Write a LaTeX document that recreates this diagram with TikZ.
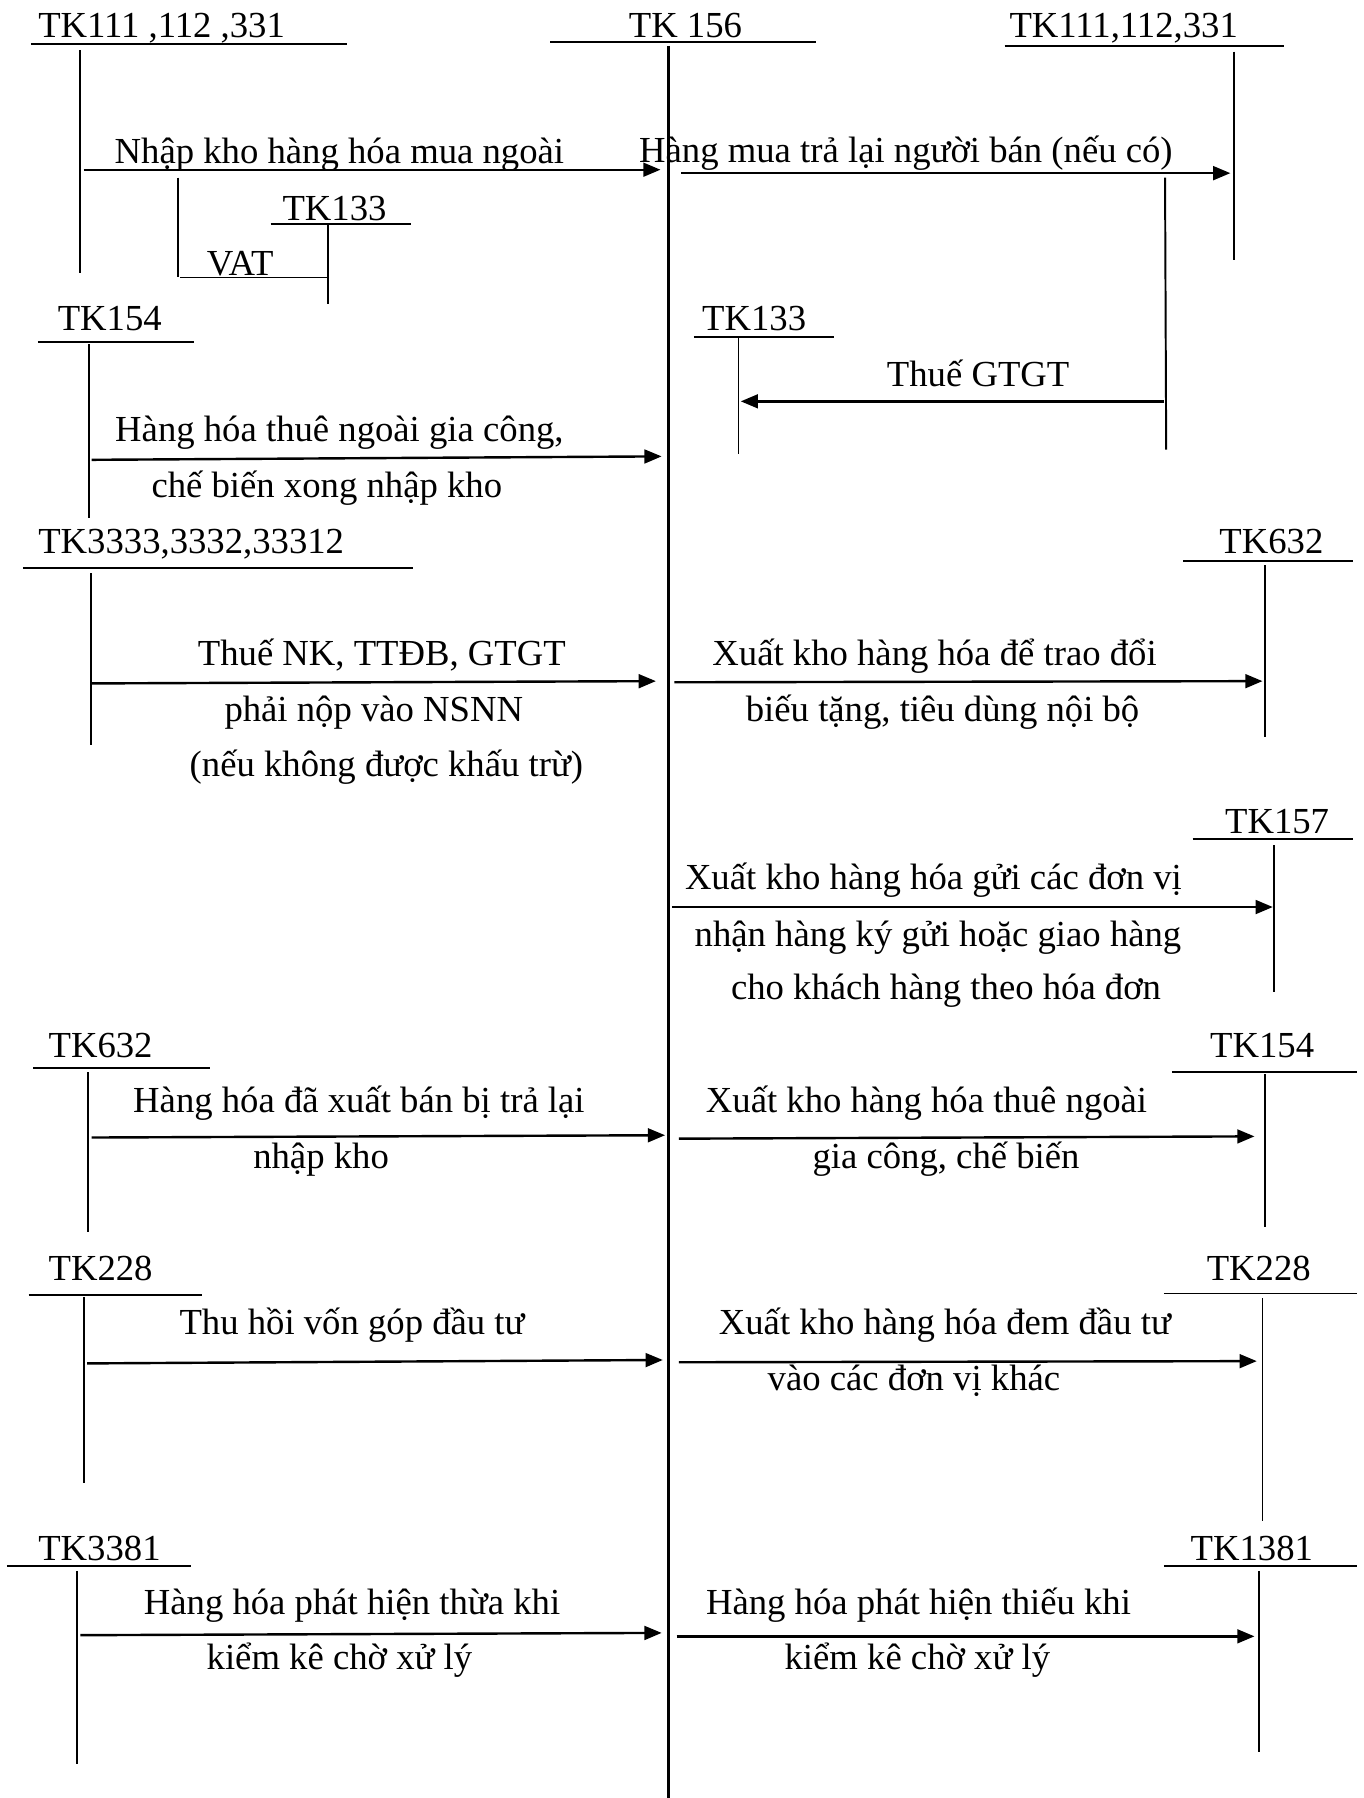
\documentclass[tikz,border=0pt]{standalone}
\usepackage{fontspec}
\setmainfont{Liberation Serif}
\usetikzlibrary{arrows.meta}
\tikzset{
  acct/.style={anchor=base west,inner sep=0pt,font=\fontsize{16}{19}\selectfont},
  lbl/.style={anchor=base,inner sep=0pt,font=\fontsize{16}{19}\selectfont},
  tline/.style={line width=0.85pt},
  arr/.style={line width=1.05pt,-{Triangle[length=7.5pt,width=6pt]}},
}
\begin{document}
\begin{tikzpicture}[x=0.5pt,y=-0.5pt]
\useasboundingbox (0,0) rectangle (1189,1568);
% ---------- T-accounts ----------
% TK111 left
\node[acct] (tkA) at (33,33) {TK111 ,112 ,331};
\coordinate (uA1) at (27,38); \coordinate (uA2) at (303,38);
\coordinate (vA1) at (70,44); \coordinate (vA2) at (70,238);
\draw[tline] (uA1) -- (uA2); \draw[tline] (vA1) -- (vA2);
% TK156 centre
\node[acct] (tkM) at (548,33) {TK 156};
\coordinate (uM1) at (480,37); \coordinate (uM2) at (712,37);
\coordinate (vM1) at (583,40); \coordinate (vM2) at (583,1568);
\draw[tline] (uM1) -- (uM2); \draw[line width=1.1pt] (vM1) -- (vM2);
% TK111 right
\node[acct] (tkB) at (880,33) {TK111,112,331};
\coordinate (uB1) at (876,40); \coordinate (uB2) at (1120,40);
\coordinate (vB1) at (1076,45); \coordinate (vB2) at (1076,227);
\draw[tline] (uB1) -- (uB2); \draw[tline] (vB1) -- (vB2);
% TK133 small left
\node[acct] (tkC) at (246,192) {TK133};
\coordinate (uC1) at (236,195); \coordinate (uC2) at (358,195);
\coordinate (vC1) at (286,195); \coordinate (vC2) at (286,265);
\draw[tline] (uC1) -- (uC2); \draw[tline] (vC1) -- (vC2);
% VAT bracket
\coordinate (vat1) at (155,155); \coordinate (vat2) at (155,242); \coordinate (vat3) at (286,242);
\draw[tline] (vat1) -- (vat2); \draw[tline] (157,242) -- (vat3);
\node[acct] (vatl) at (180,240) {VAT};
% TK133 right
\node[acct] (tkD) at (612,288) {TK133};
\coordinate (uD1) at (605,294); \coordinate (uD2) at (727,294);
\coordinate (vD1) at (644,295); \coordinate (vD2) at (644,396);
\draw[tline] (uD1) -- (uD2); \draw[tline] (vD1) -- (vD2);
% return branch vertical
\coordinate (vR1) at (1016,155); \coordinate (vR2) at (1017,392);
\draw[tline] (vR1) -- (vR2);
% TK154 left
\node[acct] (tkE) at (50,288) {TK154};
\coordinate (uE1) at (33,298); \coordinate (uE2) at (169,298);
\coordinate (vE1) at (78,300); \coordinate (vE2) at (78,452);
\draw[tline] (uE1) -- (uE2); \draw[tline] (vE1) -- (vE2);
% TK3333
\node[acct] (tkF) at (33,483) {TK3333,3332,33312};
\coordinate (uF1) at (20,495); \coordinate (uF2) at (360,495);
\coordinate (vF1) at (79,500); \coordinate (vF2) at (79,650);
\draw[tline] (uF1) -- (uF2); \draw[tline] (vF1) -- (vF2);
% TK632 right
\node[acct] (tkG) at (1063,483) {TK632};
\coordinate (uG1) at (1032,489); \coordinate (uG2) at (1180,489);
\coordinate (vG1) at (1103,493); \coordinate (vG2) at (1103,643);
\draw[tline] (uG1) -- (uG2); \draw[tline] (vG1) -- (vG2);
% TK157
\node[acct] (tkH) at (1068,727) {TK157};
\coordinate (uH1) at (1040,732); \coordinate (uH2) at (1180,732);
\coordinate (vH1) at (1111,737); \coordinate (vH2) at (1111,865);
\draw[tline] (uH1) -- (uH2); \draw[tline] (vH1) -- (vH2);
% TK632 left
\node[acct] (tkI) at (42,922) {TK632};
\coordinate (uI1) at (29,931); \coordinate (uI2) at (183,931);
\coordinate (vI1) at (77,935); \coordinate (vI2) at (77,1074);
\draw[tline] (uI1) -- (uI2); \draw[tline] (vI1) -- (vI2);
% TK154 right
\node[acct] (tkJ) at (1055,922) {TK154};
\coordinate (uJ1) at (1022,935); \coordinate (uJ2) at (1183,935);
\coordinate (vJ1) at (1103,937); \coordinate (vJ2) at (1103,1070);
\draw[tline] (uJ1) -- (uJ2); \draw[tline] (vJ1) -- (vJ2);
% TK228 left
\node[acct] (tkK) at (42,1117) {TK228};
\coordinate (uK1) at (25,1129); \coordinate (uK2) at (176,1129);
\coordinate (vK1) at (73,1131); \coordinate (vK2) at (73,1293);
\draw[tline] (uK1) -- (uK2); \draw[tline] (vK1) -- (vK2);
% TK228 right
\node[acct] (tkL) at (1052,1117) {TK228};
\coordinate (uL1) at (1015,1128); \coordinate (uL2) at (1183,1128);
\coordinate (vL1) at (1101,1132); \coordinate (vL2) at (1101,1326);
\draw[tline] (uL1) -- (uL2); \draw[tline] (vL1) -- (vL2);
% TK3381
\node[acct] (tkN) at (33,1361) {TK3381};
\coordinate (uN1) at (6,1366); \coordinate (uN2) at (167,1366);
\coordinate (vN1) at (67,1370); \coordinate (vN2) at (67,1538);
\draw[tline] (uN1) -- (uN2); \draw[tline] (vN1) -- (vN2);
% TK1381
\node[acct] (tkO) at (1038,1361) {TK1381};
\coordinate (uO1) at (1015,1366); \coordinate (uO2) at (1183,1366);
\coordinate (vO1) at (1098,1370); \coordinate (vO2) at (1098,1528);
\draw[tline] (uO1) -- (uO2); \draw[tline] (vO1) -- (vO2);
% ---------- arrows ----------
\coordinate (a1s) at (73,148); \coordinate (a1e) at (576,148);
\draw[arr] (a1s) -- (a1e);
\node[lbl] (l1) at (296,143) {Nhập kho hàng hóa mua ngoài};
\coordinate (a2s) at (594,151); \coordinate (a2e) at (1073,151);
\draw[arr] (a2s) -- (a2e);
\node[lbl] (l2) at (790,142) {Hàng mua trả lại người bán (nếu có)};
\coordinate (a3s) at (1015,350); \coordinate (a3e) at (646,350);
\draw[arr] (a3s) -- (a3e);
\node[lbl] (l3) at (853,337) {Thuế GTGT};
\coordinate (a4s) at (80,401); \coordinate (a4e) at (577,398);
\draw[arr] (a4s) -- (a4e);
\node[lbl] (l4a) at (296,385) {Hàng hóa thuê ngoài gia công,};
\node[lbl] (l4b) at (285,434) {chế biến xong nhập kho};
\coordinate (a5s) at (80,596); \coordinate (a5e) at (572,594);
\draw[arr] (a5s) -- (a5e);
\node[lbl] (l5a) at (333,580) {Thuế NK, TTĐB, GTGT};
\node[lbl] (l5b) at (326,629) {phải nộp vào NSNN};
\node[lbl] (l5c) at (337,677) {(nếu không được khấu trừ)};
\coordinate (a6s) at (588,595); \coordinate (a6e) at (1101,594);
\draw[arr] (a6s) -- (a6e);
\node[lbl] (l6a) at (815,580) {Xuất kho hàng hóa để trao đổi};
\node[lbl] (l6b) at (822,629) {biếu tặng, tiêu dùng nội bộ};
\coordinate (a7s) at (586,791); \coordinate (a7e) at (1110,791);
\draw[arr] (a7s) -- (a7e);
\node[lbl] (l7a) at (814,776) {Xuất kho hàng hóa gửi các đơn vị};
\node[lbl] (l7b) at (818,825) {nhận hàng ký gửi hoặc giao hàng};
\node[lbl] (l7c) at (825,872) {cho khách hàng theo hóa đơn};
\coordinate (a8s) at (80,992); \coordinate (a8e) at (580,990);
\draw[arr] (a8s) -- (a8e);
\node[lbl] (l8a) at (313,970) {Hàng hóa đã xuất bán bị trả lại};
\node[lbl] (l8b) at (280,1019) {nhập kho};
\coordinate (a9s) at (592,993); \coordinate (a9e) at (1094,991);
\draw[arr] (a9s) -- (a9e);
\node[lbl] (l9a) at (808,970) {Xuất kho hàng hóa thuê ngoài};
\node[lbl] (l9b) at (825,1019) {gia công, chế biến};
\coordinate (a10s) at (76,1189); \coordinate (a10e) at (578,1186);
\draw[arr] (a10s) -- (a10e);
\node[lbl] (l10) at (307,1164) {Thu hồi vốn góp đầu tư};
\coordinate (a11s) at (592,1188); \coordinate (a11e) at (1096,1187);
\draw[arr] (a11s) -- (a11e);
\node[lbl] (l11a) at (824,1164) {Xuất kho hàng hóa đem đầu tư};
\node[lbl] (l11b) at (797,1213) {vào các đơn vị khác};
\coordinate (a12s) at (70,1426); \coordinate (a12e) at (577,1424);
\draw[arr] (a12s) -- (a12e);
\node[lbl] (l12a) at (307,1408) {Hàng hóa phát hiện thừa khi};
\node[lbl] (l12b) at (296,1456) {kiểm kê chờ xử lý};
\coordinate (a13s) at (590,1427); \coordinate (a13e) at (1094,1427);
\draw[arr] (a13s) -- (a13e);
\node[lbl] (l13a) at (801,1408) {Hàng hóa phát hiện thiếu khi};
\node[lbl] (l13b) at (800,1456) {kiểm kê chờ xử lý};
\end{tikzpicture}
\end{document}
